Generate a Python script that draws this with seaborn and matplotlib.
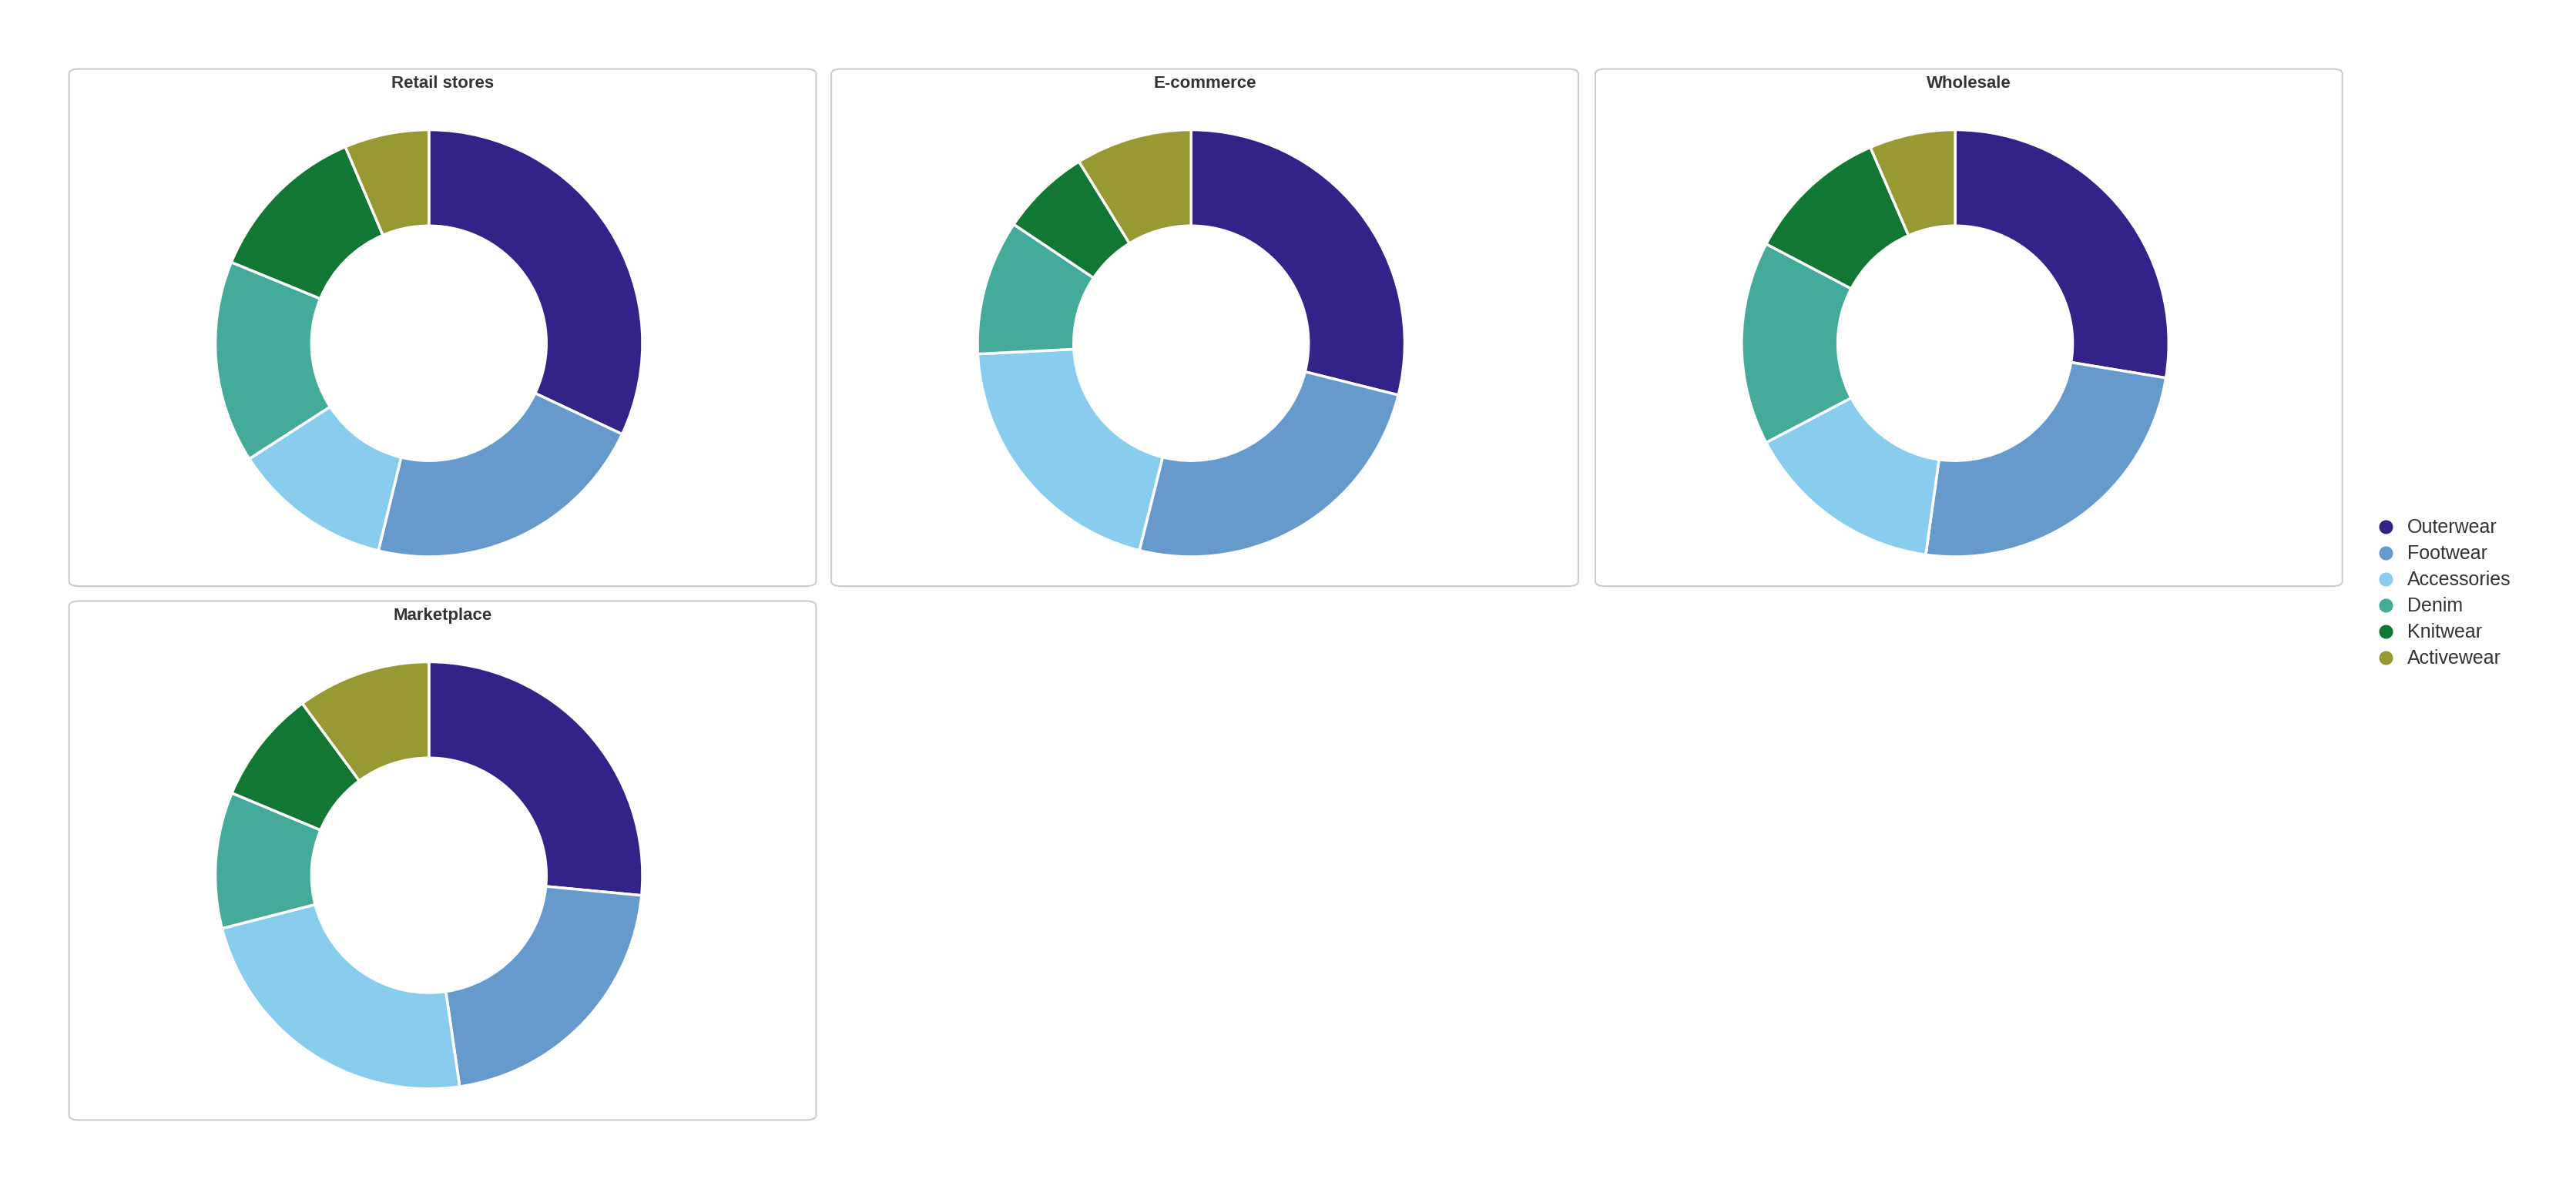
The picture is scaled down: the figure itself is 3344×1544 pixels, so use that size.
import matplotlib
matplotlib.use("Agg")
import matplotlib.pyplot as plt
import seaborn as sns
from matplotlib.patches import FancyBboxPatch
from matplotlib.lines import Line2D

sns.set_theme(style="white")
plt.rcParams['font.family'] = ['Liberation Sans', 'DejaVu Sans']

categories = ["Outerwear", "Footwear", "Accessories", "Denim", "Knitwear", "Activewear"]
channels = ["Retail stores", "E-commerce", "Wholesale", "Marketplace"]
retail = [32.0, 21.8, 12.1, 15.3, 12.4, 6.4]
ecommerce = [28.9, 25.0, 20.3, 10.2, 6.8, 8.8]
wholesale = [27.6, 24.6, 15.1, 15.4, 10.8, 6.5]
marketplace = [26.5, 21.2, 23.3, 10.3, 8.6, 10.1]
values = [retail, ecommerce, wholesale, marketplace]
colors = ["#332288", "#6699CC", "#88CCEE", "#44AA99", "#117733", "#999933"]

fig = plt.figure(figsize=(33.44, 15.44), dpi=100)
panel_x = [0.0268, 0.3227, 0.6193, 0.0268]
panel_top = [0.942, 0.942, 0.942, 0.4945]
panel_bot = [0.507, 0.507, 0.507, 0.058]
cx = [0.1665, 0.4624, 0.759, 0.1665]
cy = [0.7113, 0.7113, 0.7113, 0.2638]
rw, rh = 0.0829, 0.1796
pad = 1.05
for i, ch in enumerate(channels):
    fig.patches.append(FancyBboxPatch((panel_x[i], panel_bot[i]), 0.290, panel_top[i] - panel_bot[i],
                                      boxstyle="round,pad=0,rounding_size=0.004", transform=fig.transFigure,
                                      facecolor="none", edgecolor="#cccccc", linewidth=1.5, zorder=-1))
    fig.text(panel_x[i] + 0.145, panel_top[i] - 0.012, ch, ha="center", va="center",
             fontsize=16, fontweight="bold", color="#333333")
    ax = fig.add_axes([cx[i] - rw * pad, cy[i] - rh * pad, 2 * rw * pad, 2 * rh * pad])
    ax.set_zorder(2)
    ax.pie(values[i], colors=colors, startangle=90, counterclock=False,
           wedgeprops=dict(width=0.45, edgecolor="white", linewidth=2.5))
    ax.set_xlim(-pad, pad)
    ax.set_ylim(-pad, pad)
    ax.set_aspect("equal")
    ax.axis("off")

handles = [Line2D([0], [0], marker="o", linestyle="", markersize=12, markerfacecolor=c,
                  markeredgecolor=c) for c in colors]
fig.legend(handles, categories, loc="center left", bbox_to_anchor=(0.912, 0.501), frameon=False,
           fontsize=18, handletextpad=0.1, labelspacing=0.4, labelcolor="#333333")
fig.savefig("out.png", dpi=100, facecolor="white")
